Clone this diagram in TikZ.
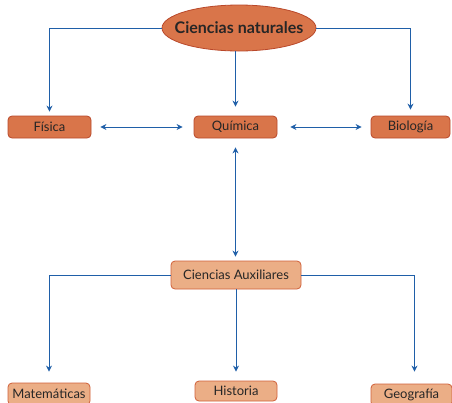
\documentclass[tikz,border=0pt]{standalone}
\usepackage{fontspec}
\setmainfont{Lato}
\usetikzlibrary{arrows.meta,shapes.geometric,calc}
\definecolor{dark}{HTML}{D9754A}
\definecolor{darkb}{HTML}{B9482A}
\definecolor{light}{HTML}{EBAE86}
\definecolor{lightb}{HTML}{D0603A}
\definecolor{arr}{HTML}{1F5FA8}
\tikzset{
  box/.style={draw=darkb,fill=dark,rounded corners=4pt,line width=0.8pt,inner sep=0pt,minimum height=22pt,font=\fontsize{13}{14}\selectfont,text=black!85},
  lbox/.style={draw=lightb,fill=light,rounded corners=4pt,line width=0.8pt,inner sep=0pt,minimum height=22pt,font=\fontsize{13}{14}\selectfont,text=black!85},
  conn/.style={draw=arr,line width=0.9pt,-{Stealth[length=6pt,width=6pt]}},
  dconn/.style={draw=arr,line width=0.9pt,{Stealth[length=6pt,width=6pt]}-{Stealth[length=6pt,width=6pt]}}
}
\begin{document}
\begin{tikzpicture}[x=1pt,y=-1pt]
\useasboundingbox (0,0) rectangle (452,402);
\node[ellipse,draw=darkb,fill=dark,line width=0.8pt,minimum width=154pt,minimum height=46pt,inner sep=0pt] (cn) at (239,28) {};
\node[font=\bfseries\fontsize{16}{18}\selectfont,text=black!85,inner sep=0pt] (cnt) at (cn.center) {Ciencias naturales};
\node[box,minimum width=83pt] (fis) at (49.5,127) {Física};
\node[box,minimum width=83pt] (qui) at (235.5,127) {Química};
\node[box,minimum width=79pt] (bio) at (410.5,127) {Biología};
\node[lbox,minimum width=130pt,minimum height=28pt] (ca) at (236,275) {Ciencias Auxiliares};
\node[lbox,minimum width=82pt] (mat) at (49,394) {Matemáticas};
\node[lbox,minimum width=82pt,minimum height=20pt] (his) at (236,391) {Historia};
\node[lbox,minimum width=81pt] (geo) at (411.5,395) {Geografía};
\draw[conn,shorten >=4pt] (cn.west) -| (fis.north);
\draw[conn,shorten >=6pt] (cn.east) -| (bio.north);
\draw[conn,shorten >=9pt] (qui.north |- cn.south) -- (qui.north);
\draw[dconn,shorten <=9pt,shorten >=11pt] (fis.east) -- (qui.west);
\draw[dconn,shorten <=13pt,shorten >=9pt] (qui.east) -- (bio.west);
\draw[dconn,shorten <=9pt,shorten >=4pt] (qui.south) -- (qui.south |- ca.north);
\draw[conn,shorten >=11pt] (ca.west) -| (mat.north);
\draw[conn,shorten >=9pt] (ca.south) -- (his.north);
\draw[conn,shorten >=12pt] (ca.east) -| ([xshift=3pt]geo.north);
\end{tikzpicture}
\end{document}
